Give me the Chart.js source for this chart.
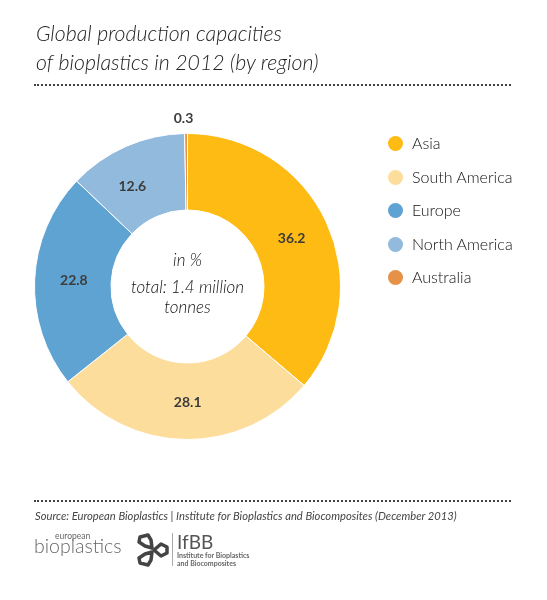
<!DOCTYPE html>
<html>
<head>
<meta charset="utf-8">
<style>
  html, body { margin: 0; padding: 0; background: #fff; }
  #page { position: relative; width: 547px; height: 600px; overflow: hidden; font-family: Lato, sans-serif; color: #3c3c3b; }
  #page > * { position: absolute; }
  canvas { left: 0; top: 0; }
  .title { left: 36px; top: 19px; font-size: 21.3px; line-height: 29px; font-style: italic; font-weight: 300; color: #222; white-space: nowrap; }
  .dots { left: 34px; width: 477px; height: 0; border-top: 2px dotted #444; }
  .center { left: 112px; width: 151px; text-align: center; font-style: italic; font-weight: 300; font-size: 17px; line-height: 22px; color: #111; }
  .dot { width: 15px; height: 15px; border-radius: 50%; left: 388px; }
  .leg { left: 412px; font-size: 16px; font-weight: 300; line-height: 20px; color: #111; white-space: nowrap; }
  .source { left: 35px; top: 508px; font-size: 11.2px; line-height: 16px; font-style: italic; color: #444; white-space: nowrap; }
  .logo1a { left: 55px; top: 531px; font-size: 8.5px; line-height: 10px; color: #666; }
  .logo1b { left: 34px; top: 534px; font-size: 19.5px; line-height: 24px; font-weight: 300; color: #666; white-space: nowrap; }
  .logo2a { left: 177px; top: 531px; font-size: 19px; line-height: 21px; color: #555; }
  .logo2b { left: 177px; top: 552px; font-size: 7px; line-height: 7.5px; font-weight: 700; color: #666; white-space: nowrap; }
  .bar { left: 172px; top: 533px; width: 1px; height: 33px; background: #aaa; }
  svg { left: 137px; top: 533px; }
</style>
</head>
<body>
<div id="page">
  <canvas id="chart" width="547" height="600"></canvas>
  <div class="title">Global production capacities<br>of bioplastics in 2012 (by region)</div>
  <div class="dots" style="top:84px"></div>
  <div class="center" style="top:249px">in %</div>
  <div class="center" style="top:276px">total: 1.4 million</div>
  <div class="center" style="top:296px">tonnes</div>
  <div class="dots" style="top:500px"></div>
  <div class="source">Source: European Bioplastics | Institute for Bioplastics and Biocomposites (December 2013)</div>
  <div class="logo1a">european</div>
  <div class="logo1b">bioplastics</div>
  <svg width="32" height="34" viewBox="0 0 32 34" fill="none" stroke="#444" stroke-width="3.5" stroke-linejoin="round">
    <path d="M3 4 L11 2 L14 7 L15 15 L8 13 L2 9 Z"/>
    <path d="M3 30 L11 32 L14 27 L15 19 L8 21 L2 25 Z"/>
    <path d="M17 17 L24 11 L30 14 L30 20 L24 23 Z"/>
  </svg>
  <div class="bar"></div>
  <div class="logo2a">IfBB</div>
  <div class="logo2b">Institute for Bioplastics<br>and Biocomposites</div>
</div>
<script src="https://cdn.jsdelivr.net/npm/chart.js@4"></script>
<script>
const regions = ['Asia', 'South America', 'Europe', 'North America', 'Australia'];
const shares  = [36.2, 28.1, 22.8, 12.6, 0.3];
const colors  = ['#FDBB13', '#FDDD9C', '#5FA3D3', '#92BADD', '#E59148'];
const legendY = [136, 170, 203, 237, 270];
// small shifts of the numbers away from the arc centre, as placed in the original
const nudgeX = [0, 2, 1, -9, 0];
const nudgeY = [0, 1, -1, 5, 0];

// legend sits outside the canvas
const page = document.getElementById('page');
regions.forEach((r, i) => {
  const d = document.createElement('div');
  d.className = 'dot';
  d.style.top = legendY[i] + 'px';
  d.style.background = colors[i];
  page.appendChild(d);
  const t = document.createElement('div');
  t.className = 'leg';
  t.style.top = (legendY[i] - 3) + 'px';
  t.textContent = r;
  page.appendChild(t);
});

const sliceLabels = {
  id: 'sliceLabels',
  afterDatasetsDraw(chart) {
    const ctx = chart.ctx;
    const arcs = chart.getDatasetMeta(0).data;
    ctx.save();
    ctx.font = 'bold 14px Lato';
    ctx.fillStyle = '#3c3c3b';
    ctx.textAlign = 'center';
    ctx.textBaseline = 'middle';
    arcs.forEach((arc, i) => {
      const pos = arc.tooltipPosition();
      if (shares[i] < 1) {
        // too thin to hold its number, goes above the ring
        ctx.fillText(shares[i], arc.x - 4, arc.y - arc.outerRadius - 15);
      } else {
        ctx.fillText(shares[i], pos.x + nudgeX[i], pos.y + nudgeY[i]);
      }
    });
    ctx.restore();
  }
};

new Chart(document.getElementById('chart').getContext('2d'), {
  type: 'doughnut',
  data: {
    labels: regions,
    datasets: [{ data: shares, backgroundColor: colors, borderColor: '#fff', borderWidth: 1 }]
  },
  options: {
    responsive: false,
    animation: false,
    cutout: '50%',
    layout: { padding: { left: 34, right: 206, top: 133, bottom: 160 } },
    plugins: { legend: { display: false }, tooltip: { enabled: false } }
  },
  plugins: [sliceLabels]
});
</script>
</body>
</html>
